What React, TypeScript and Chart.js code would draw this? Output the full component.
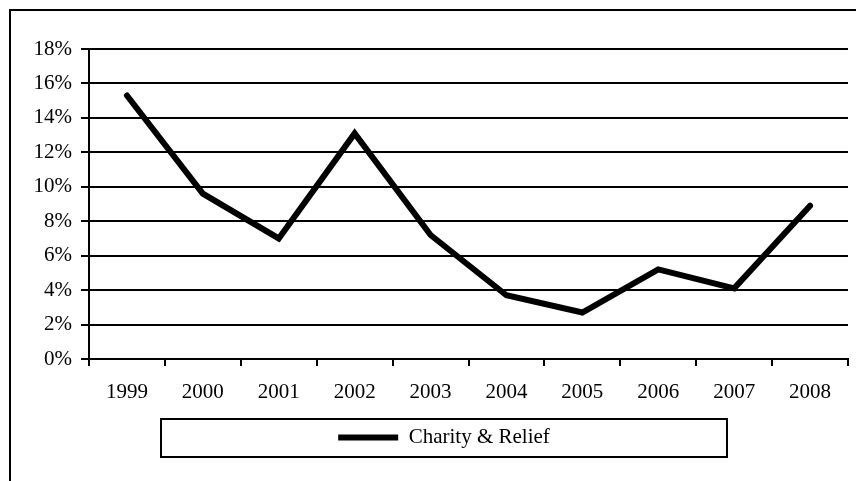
import React, { useEffect, useRef } from "react";
import { Chart, registerables } from "chart.js";

Chart.register(...registerables);

const years = ["1999", "2000", "2001", "2002", "2003", "2004", "2005", "2006", "2007", "2008"];
const charityRelief = [15.3, 9.6, 7.0, 13.1, 7.2, 3.7, 2.7, 5.2, 4.1, 8.9];
const seriesName = "Charity & Relief";
const yMin = 0;
const yMax = 18;
const yStep = 2;

const FONT = "'Liberation Serif', 'Times New Roman', serif";

const framePlugin = {
  id: "frame",
  afterLayout(chart: any) {
    const lg = chart.legend;
    if (lg) {
      lg.left += 15;
      lg.right += 15;
    }
  },
  beforeDraw(chart: any) {
    const ctx = chart.ctx;
    ctx.save();
    ctx.fillStyle = "#fff";
    ctx.fillRect(0, 0, chart.width, chart.height);
    ctx.strokeStyle = "#000";
    ctx.lineWidth = 2;
    ctx.strokeRect(10, 10, chart.width + 20, chart.height + 20);
    ctx.restore();
  },
  afterDraw(chart: any) {
    const ctx = chart.ctx;
    const lg = chart.legend;
    if (!lg) return;
    ctx.save();
    ctx.strokeStyle = "#000";
    ctx.lineWidth = 2;
    const top = lg.top + 2;
    ctx.strokeRect(161, top, 566, 38);
    ctx.restore();
  },
};

export default function App() {
  const ref = useRef<HTMLCanvasElement | null>(null);
  useEffect(() => {
    document.body.style.margin = "0";
    const canvas = ref.current!;
    const chart = new Chart(canvas, {
      type: "line",
      data: {
        labels: years,
        datasets: [
          {
            label: seriesName,
            data: charityRelief,
            borderColor: "#000",
            backgroundColor: "#000",
            borderWidth: 6,
            borderCapStyle: "round",
            borderJoinStyle: "miter",
            pointRadius: 0,
            pointHoverRadius: 0,
            pointStyle: "line",
            tension: 0,
            fill: false,
          },
        ],
      },
      plugins: [framePlugin],
      options: {
        responsive: false,
        animation: false,
        layout: { padding: { left: 10, right: 8, top: 49, bottom: 23 } },
        plugins: {
          tooltip: { enabled: false },
          legend: {
            position: "bottom",
            labels: {
              usePointStyle: true,
              pointStyle: "line",
              pointStyleWidth: 60,
              color: "#000",
              font: { family: FONT, size: 21 },
              padding: 10,
            },
          },
        },
        scales: {
          x: {
            offset: true,
            grid: {
              offset: true,
              drawOnChartArea: false,
              drawTicks: true,
              tickLength: 7,
              color: "#000",
              lineWidth: 2,
            },
            border: { display: true, color: "#000", width: 2 },
            ticks: {
              color: "#000",
              font: { family: FONT, size: 21 },
              padding: 14,
              maxRotation: 0,
              autoSkip: false,
            },
            afterFit(scale: any) {
              scale.height = 58;
            },
          },
          y: {
            min: yMin,
            max: yMax,
            grid: {
              color: "#000",
              lineWidth: 2,
              drawTicks: true,
              tickLength: 8,
            },
            border: { display: true, color: "#000", width: 2 },
            ticks: {
              stepSize: yStep,
              color: "#000",
              font: { family: FONT, size: 21 },
              padding: 9,
              callback: (v: any) => `${v}%`,
            },
            afterFit(scale: any) {
              scale.width = 79;
            },
          },
        },
      },
    } as any);
    return () => chart.destroy();
  }, []);
  return (
    <div style={{ width: 856, height: 481 }}>
      <canvas ref={ref} width={856} height={481} style={{ display: "block" }} />
    </div>
  );
}
